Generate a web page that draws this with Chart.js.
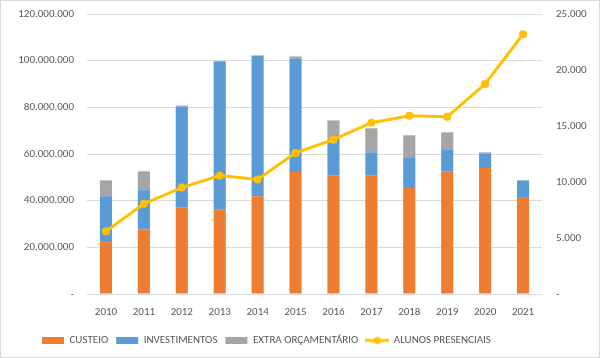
<!DOCTYPE html>
<html>
<head>
<meta charset="utf-8">
<script src="https://cdn.jsdelivr.net/npm/chart.js@4/dist/chart.umd.min.js"></script>
<style>
  html, body { margin: 0; padding: 0; background: #fff; }
  #box { width: 600px; height: 358px; box-sizing: border-box; border: 1px solid #d9d9d9; background: #fff; }
</style>
</head>
<body>
<div id="box"><canvas id="myChart" width="598" height="356"></canvas></div>
<script>
const anos = ['2010','2011','2012','2013','2014','2015','2016','2017','2018','2019','2020','2021'];
const custeio = [22700000, 27800000, 37200000, 36300000, 41900000, 52300000, 50900000, 50900000, 45400000, 52600000, 54000000, 41200000];
const investimentos = [19200000, 16700000, 43200000, 63200000, 60300000, 48600000, 15800000, 9800000, 13200000, 9400000, 6300000, 7500000];
const extraOrcamentario = [6800000, 8100000, 400000, 400000, 0, 900000, 7700000, 10300000, 9400000, 7300000, 400000, 0];
const alunosPresenciais = [5600, 8050, 9500, 10570, 10220, 12600, 13780, 15290, 15910, 15820, 18760, 23190];

const fonte = "Carlito, 'Liberation Sans Narrow', 'DejaVu Sans Condensed', 'Liberation Sans', Arial, sans-serif";
const corTexto = '#595959';

function formatar(v){
    if (v === 0) return '-';
    return String(v).replace(/\B(?=(\d{3})+(?!\d))/g, '.');
}

// marcador da legenda da linha (linha com bolinha)
function marcadorLinha(){
    const c = document.createElement('canvas');
    c.width = 24; c.height = 10;
    const g = c.getContext('2d');
    g.strokeStyle = '#FFC000';
    g.lineWidth = 3;
    g.beginPath(); g.moveTo(0, 5); g.lineTo(24, 5); g.stroke();
    g.fillStyle = '#FFC000';
    g.beginPath(); g.arc(12, 5, 3.5, 0, Math.PI*2); g.fill();
    return c;
}
const imgLinha = marcadorLinha();

// empurra a legenda um pouco pra direita, como no excel
const legendaDeslocada = {
    id: 'legendaDeslocada',
    afterLayout(chart){
        if (chart.legend) chart.legend.left = 33;
    }
};

const ctx = document.getElementById('myChart').getContext('2d');
window.myChart = new Chart(ctx, {
    type: 'bar',
    data: {
        labels: anos,
        datasets: [
            { label: 'CUSTEIO', data: custeio, backgroundColor: '#ED7D31', yAxisID: 'y', order: 1 },
            { label: 'INVESTIMENTOS', data: investimentos, backgroundColor: '#5B9BD5', yAxisID: 'y', order: 1 },
            { label: 'EXTRA ORÇAMENTÁRIO', data: extraOrcamentario, backgroundColor: '#A5A5A5', yAxisID: 'y', order: 1 },
            {
                type: 'line', label: 'ALUNOS PRESENCIAIS', data: alunosPresenciais, yAxisID: 'y1', order: 0,
                borderColor: '#FFC000', backgroundColor: '#FFC000', borderWidth: 3,
                pointRadius: 4, pointBackgroundColor: '#FFC000', pointBorderWidth: 0, tension: 0
            }
        ]
    },
    plugins: [legendaDeslocada],
    options: {
        responsive: false,
        animation: false,
        layout: { padding: { left: 8, right: 6, top: 4, bottom: 1 } },
        datasets: { bar: { barPercentage: 0.32, categoryPercentage: 1 } },
        plugins: {
            tooltip: { enabled: false },
            legend: {
                position: 'bottom',
                align: 'start',
                labels: {
                    font: { family: fonte, size: 11 },
                    color: corTexto,
                    usePointStyle: true,
                    pointStyleWidth: 22,
                    boxHeight: 7,
                    padding: 8,
                    sort: (a, b) => a.datasetIndex - b.datasetIndex,
                    generateLabels(chart){
                        const items = Chart.defaults.plugins.legend.labels.generateLabels(chart);
                        items.forEach(it => {
                            if (it.datasetIndex === 3) {
                                it.pointStyle = imgLinha;
                            } else {
                                it.pointStyle = 'rect';
                                it.lineWidth = 0;
                            }
                        });
                        return items;
                    }
                }
            }
        },
        scales: {
            x: {
                stacked: true,
                grid: { display: false },
                border: { display: false },
                afterFit(scale){ scale.height = 33; },
                ticks: { font: { family: fonte, size: 11 }, color: corTexto, padding: 4 }
            },
            y: {
                stacked: true,
                position: 'left',
                min: 0, max: 120000000,
                grid: { color: '#d9d9d9', drawTicks: false },
                border: { display: false },
                afterFit(scale){ scale.width = 78; scale.paddingTop = 13; },
                ticks: {
                    stepSize: 20000000,
                    font: { family: fonte, size: 11 }, color: corTexto, padding: 13,
                    callback: v => formatar(v)
                }
            },
            y1: {
                position: 'right',
                min: 0, max: 25000,
                grid: { display: false, drawTicks: false },
                border: { display: false },
                afterFit(scale){ scale.width = 51; scale.paddingTop = 13; },
                ticks: {
                    stepSize: 5000,
                    font: { family: fonte, size: 11 }, color: corTexto, padding: 14,
                    callback: v => formatar(v)
                }
            }
        }
    }
});
</script>
</body>
</html>
